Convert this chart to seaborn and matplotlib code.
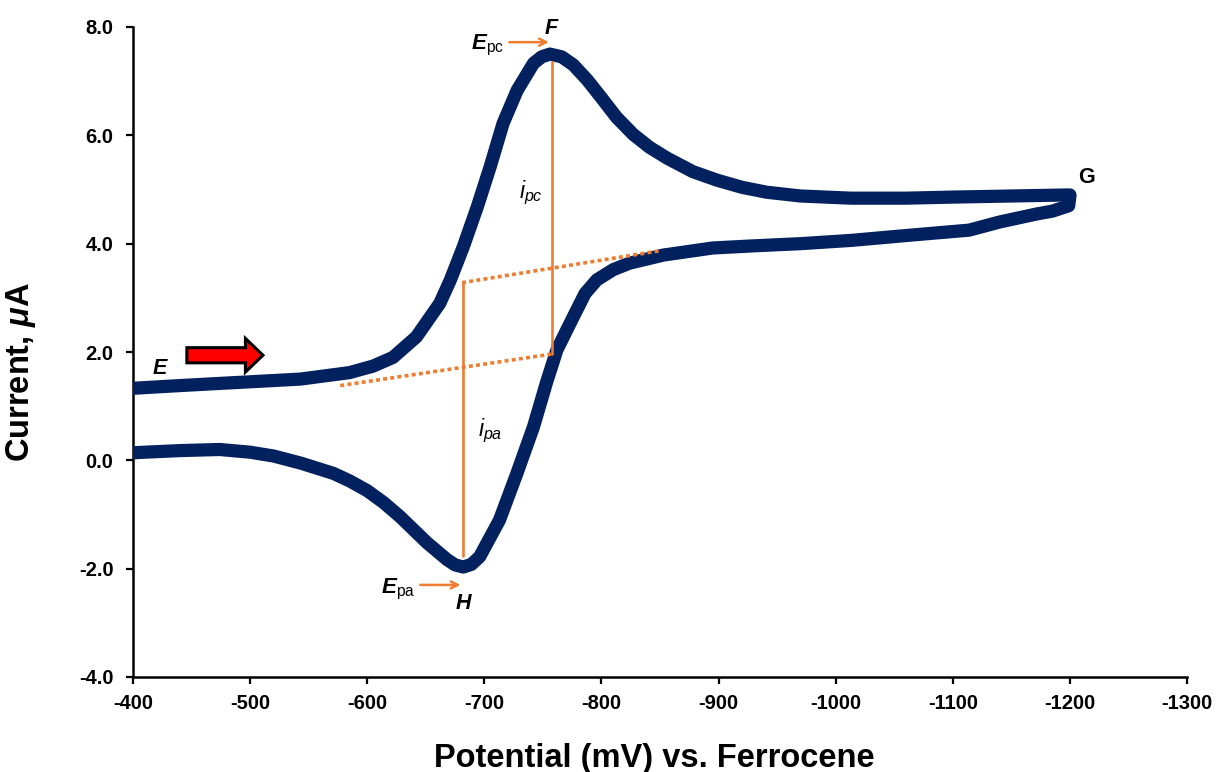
import numpy as np
import pandas as pd
import matplotlib
matplotlib.use("Agg")
import matplotlib.pyplot as plt
import seaborn as sns

# ---- data ----
forward_mV = [-400, -440, -474, -500, -543, -585, -605, -622, -642, -662, -671,
              -682, -694, -705, -716, -728, -742, -749, -756, -766, -776, -788, -799,
              -813, -827, -841, -856, -878, -899, -920, -941, -970, -1013, -1060, -1100,
              -1150, -1200]
forward_uA = [1.33, 1.38, 1.42, 1.45, 1.50, 1.62, 1.74, 1.90, 2.28, 2.90, 3.33,
              3.94, 4.68, 5.42, 6.22, 6.83, 7.33, 7.45, 7.50, 7.45, 7.30, 7.02, 6.72,
              6.33, 6.02, 5.78, 5.58, 5.33, 5.17, 5.04, 4.95, 4.88, 4.84, 4.84, 4.86,
              4.88, 4.90]

reverse_mV = [-1200, -1199, -1185, -1172, -1140, -1114, -1060, -1013, -970, -930, -895,
              -853, -824, -810, -796, -786, -776, -762, -753, -742, -728, -713, -696,
              -689, -682, -675, -668, -651, -628, -614, -600, -585, -571, -543, -520, -500,
              -474, -440, -400]
reverse_uA = [4.88, 4.70, 4.60, 4.55, 4.40, 4.25, 4.15, 4.06, 4.00, 3.96, 3.92,
              3.79, 3.64, 3.52, 3.33, 3.08, 2.65, 2.04, 1.43, 0.62, -0.23, -1.10, -1.78,
              -1.92, -1.97, -1.93, -1.83, -1.52, -1.04, -0.78, -0.56, -0.38, -0.24, -0.05, 0.08, 0.15,
              0.20, 0.18, 0.14]

# peak annotations
Epc_mV, ipc_top, ipc_base = -758, 7.35, 1.97
Epa_mV, ipa_top, ipa_base = -681.5, 3.28, -1.76
base_fwd_mV = [-577, -757]
base_fwd_uA = [1.38, 1.96]
base_rev_mV = [-681, -850]
base_rev_uA = [3.28, 3.87]

x_ticks = [-400, -500, -600, -700, -800, -900, -1000, -1100, -1200, -1300]
y_ticks = [-4.0, -2.0, 0.0, 2.0, 4.0, 6.0, 8.0]

# ---- style ----
sns.set_style("ticks")
plt.rcParams['font.family'] = ['Liberation Sans', 'DejaVu Sans']
plt.rcParams['mathtext.fontset'] = 'custom'
plt.rcParams['mathtext.rm'] = 'Liberation Sans'
plt.rcParams['mathtext.it'] = 'Liberation Sans:italic'
plt.rcParams['mathtext.bf'] = 'Liberation Sans:bold'
plt.rcParams['mathtext.bfit'] = 'Liberation Sans:italic:bold'
for k in ['text.color', 'axes.labelcolor', 'xtick.color', 'ytick.color', 'axes.edgecolor']:
    plt.rcParams[k] = 'black'

navy = '#03215e'
orange = '#ed7d31'

fig = plt.figure(figsize=(12.2, 7.72), dpi=100)
ax = fig.add_axes([133/1220, 1-677/772, (1187-133)/1220, (677-27)/772])

df = pd.concat([
    pd.DataFrame({'E': forward_mV, 'I': forward_uA, 'scan': 'forward'}),
    pd.DataFrame({'E': reverse_mV, 'I': reverse_uA, 'scan': 'reverse'}),
], ignore_index=True)

for scan, sub in df.groupby('scan'):
    sns.lineplot(data=sub, x='E', y='I', sort=False, estimator=None, ax=ax,
                 color=navy, linewidth=9.5, solid_capstyle='round',
                 solid_joinstyle='round', zorder=3)

# baselines and peak currents
ax.plot(base_fwd_mV, base_fwd_uA, color=orange, lw=2.6, linestyle=(0, (1.1, 0.9)),
        dash_capstyle='butt', zorder=4)
ax.plot(base_rev_mV, base_rev_uA, color=orange, lw=2.6, linestyle=(0, (1.1, 0.9)),
        dash_capstyle='butt', zorder=4)
ax.plot([Epc_mV, Epc_mV], [ipc_top, ipc_base], color=orange, lw=1.9, zorder=4)
ax.plot([Epa_mV, Epa_mV], [ipa_top, ipa_base], color=orange, lw=1.9, zorder=4)

# E_pc / E_pa arrows
ax.annotate('', xy=(-757.5, 7.72), xytext=(-719, 7.72),
            arrowprops=dict(arrowstyle='->,head_length=0.5,head_width=0.25', color=orange, lw=1.8))
ax.annotate('', xy=(-682, -2.30), xytext=(-643, -2.30),
            arrowprops=dict(arrowstyle='->,head_length=0.5,head_width=0.25', color=orange, lw=1.8))

ax.text(-717, 7.66, r'$\mathbfit{E}_{\mathrm{pc}}$', fontsize=16, ha='right', va='center')
ax.text(-641, -2.38, r'$\mathbfit{E}_{\mathrm{pa}}$', fontsize=16, ha='right', va='center')
ax.text(-757.5, 7.98, 'F', fontsize=15.5, fontweight='bold', fontstyle='italic', ha='center', va='center')
ax.text(-682, -2.64, 'H', fontsize=15.5, fontweight='bold', fontstyle='italic', ha='center', va='center')
ax.text(-423, 1.70, 'E', fontsize=15.5, fontweight='bold', fontstyle='italic', ha='center', va='center')
ax.text(-1214, 5.22, 'G', fontsize=15.5, fontweight='bold', ha='center', va='center')
ax.text(-740, 4.93, r'$i_{pc}$', fontsize=16.5, ha='center', va='center')
ax.text(-705, 0.55, r'$i_{pa}$', fontsize=16.5, ha='center', va='center')

# red block arrow showing scan direction
ax.arrow(-446, 1.94, -65, 0, width=0.28, head_width=0.62, head_length=15,
         length_includes_head=True, fc='#ff0000', ec='black', lw=2.2, zorder=5)

# axes
ax.set_xlim(-400, -1300)
ax.set_ylim(-4, 8)
ax.set_xticks(x_ticks)
ax.set_yticks(y_ticks)
ax.set_xticklabels([str(v) for v in x_ticks])
ax.set_yticklabels([f'{v:.1f}' for v in y_ticks])
for lab in ax.get_xticklabels() + ax.get_yticklabels():
    lab.set_fontweight('bold')
    lab.set_fontsize(14.5)
ax.tick_params(axis='both', direction='out', length=5, width=1.6, color='black')
ax.tick_params(axis='x', pad=7)
ax.tick_params(axis='y', pad=9)
sns.despine(ax=ax)
for s in ['left', 'bottom']:
    ax.spines[s].set_linewidth(1.8)
    ax.spines[s].set_color('black')

ax.set_xlabel('Potential (mV) vs. Ferrocene', fontsize=23.5, fontweight='bold')
ax.set_ylabel(r'Current, $\mathbfit{\mu}$A', fontsize=23.5, fontweight='bold')
ax.xaxis.set_label_coords(0.495, -0.102)
ax.yaxis.set_label_coords(-0.09, 0.47)

fig.savefig('out.png', dpi=100, facecolor='white')
